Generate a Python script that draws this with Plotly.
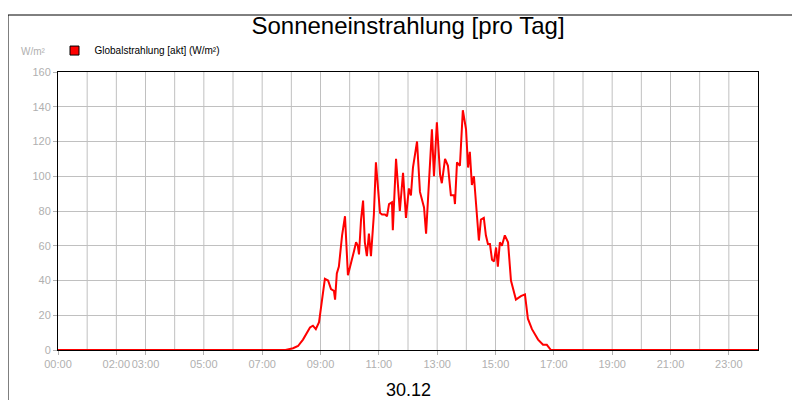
import plotly.graph_objects as go

# Time of day (hours) and global radiation (W/m²)
hours = [0, 7.80, 8.06, 8.23, 8.40, 8.50, 8.64, 8.74, 8.84, 8.95, 9.05, 9.15, 9.26, 9.36,
         9.46, 9.50, 9.56, 9.63, 9.74, 9.84, 9.94, 10.04, 10.15, 10.22, 10.28, 10.32,
         10.39, 10.46, 10.52, 10.59, 10.66, 10.73, 10.83, 10.90, 11.04, 11.11, 11.21,
         11.28, 11.35, 11.45, 11.48, 11.59, 11.72, 11.83, 11.93, 12.03, 12.10, 12.17,
         12.31, 12.41, 12.55, 12.62, 12.72, 12.82, 12.89, 12.99, 13.10, 13.16, 13.27,
         13.37, 13.47, 13.58, 13.61, 13.68, 13.78, 13.88, 13.99, 14.06, 14.12, 14.19,
         14.26, 14.36, 14.43, 14.50, 14.60, 14.67, 14.74, 14.81, 14.88, 14.95, 15.02,
         15.08, 15.15, 15.22, 15.32, 15.43, 15.53, 15.70, 15.87, 16.01, 16.11, 16.25,
         16.46, 16.63, 16.76, 16.90, 24]
radiation = [0, 0, 1, 2.3, 6, 9, 13, 14, 12, 16, 30, 41, 40, 35,
             34, 29, 44, 48, 66, 77, 43, 49, 57, 62, 60, 55,
             75, 86, 62, 54, 67, 54, 78, 108, 79, 78, 78,
             77, 84, 85, 69, 110, 80, 102, 76, 93, 89, 105,
             120, 91, 82, 67, 100, 127, 100, 131, 101, 96, 110,
             106, 89, 89, 84, 108, 106, 138, 127, 105, 114, 95,
             100, 75, 63, 75, 76, 66, 61, 61, 52, 51, 59,
             48, 62, 60, 66, 62, 40, 29, 31, 32, 18, 12,
             6, 3, 3, 0, 0]

tick_hours = [0, 2, 3, 5, 7, 9, 11, 13, 15, 17, 19, 21, 23]
tick_labels = ["00:00", "02:00", "03:00", "05:00", "07:00", "09:00", "11:00",
               "13:00", "15:00", "17:00", "19:00", "21:00", "23:00"]

fig = go.Figure()

# hourly vertical grid lines
for h in range(1, 24):
    fig.add_vline(x=h, line=dict(color="#c0c0c0", width=1), layer="below")

fig.add_trace(go.Scatter(x=hours, y=radiation, mode="lines",
                         line=dict(color="#ff0000", width=2), showlegend=False))
# legend entry with a square symbol
fig.add_trace(go.Scatter(x=[None], y=[None], mode="markers",
                         marker=dict(symbol="square", size=9, color="#ff0000",
                                     line=dict(color="black", width=1)),
                         name="Globalstrahlung [akt] (W/m²)"))

# border around the whole picture
fig.add_shape(type="rect", xref="paper", yref="paper", x0=-50 / 700, x1=749 / 700,
              y0=-57 / 278, y1=335 / 278, line=dict(color="black", width=1))

fig.update_layout(
    width=800, height=400,
    margin=dict(l=50, r=50, t=64, b=58, autoexpand=False),
    paper_bgcolor="white", plot_bgcolor="white",
    font=dict(family="Liberation Sans, Arial", color="#000"),
    title=dict(text="Sonneneinstrahlung [pro Tag]", x=0.5, xanchor="center",
               y=0.955, yanchor="middle", font=dict(size=24)),
    showlegend=True,
    legend=dict(x=-0.005, y=1.025, xanchor="left", yanchor="bottom", orientation="h",
                font=dict(size=10), itemwidth=30, bgcolor="rgba(0,0,0,0)"),
    annotations=[
        dict(text="W/m²", xref="paper", yref="paper", x=-0.014, y=1.075,
             xanchor="right", yanchor="middle", showarrow=False,
             font=dict(size=10, color="#b0b0b0")),
        dict(text="30.12", xref="paper", yref="paper", x=0.5, y=-0.1,
             xanchor="center", yanchor="top", showarrow=False,
             font=dict(size=18)),
    ],
)
fig.update_xaxes(range=[0, 24], tickvals=tick_hours, ticktext=tick_labels,
                 tickangle=0, automargin=False,
                 showgrid=False, showline=True, linecolor="black", mirror=True,
                 ticks="outside", ticklen=4, tickcolor="#b0b0b0",
                 tickfont=dict(size=11, color="#b0b0b0"), zeroline=False)
fig.update_yaxes(range=[0, 160], dtick=20, showgrid=True, gridcolor="#c0c0c0",
                 automargin=False,
                 showline=True, linecolor="black", mirror=True,
                 ticks="outside", ticklen=4, tickcolor="#b0b0b0",
                 tickfont=dict(size=11, color="#b0b0b0"), zeroline=False)

fig.write_html("out.html")
